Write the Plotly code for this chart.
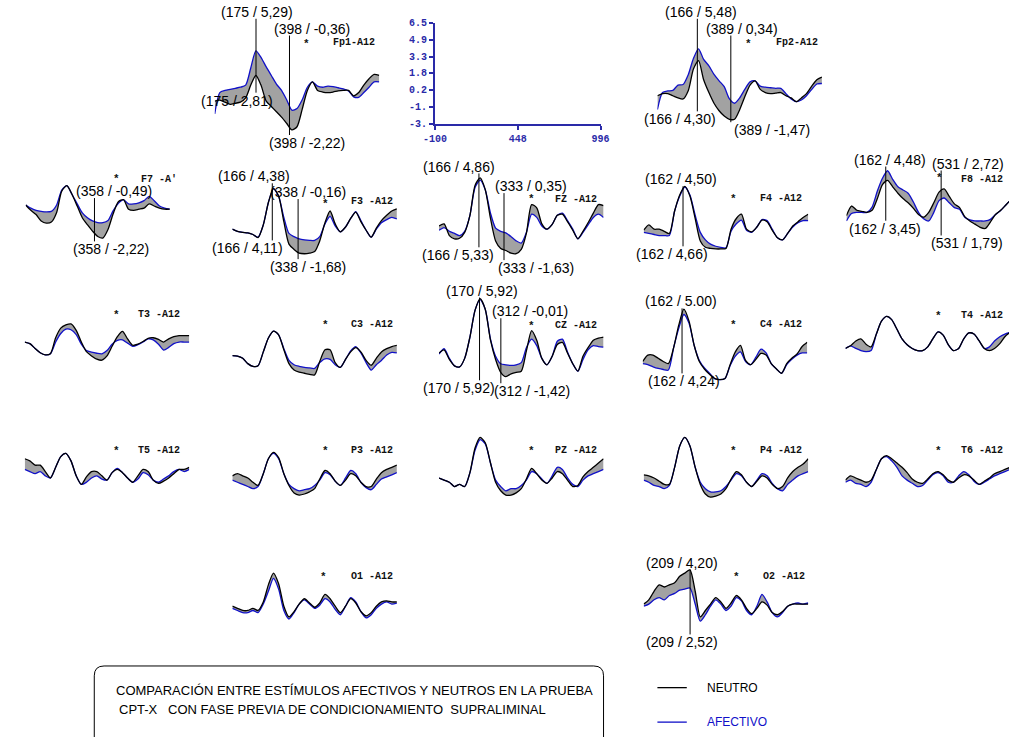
import plotly.graph_objects as go

W, H = 1018, 737

# ---------------- DATA ----------------
TIME_MS = [-100, -66, -31, 3, 37, 71, 106, 140, 174, 208, 243, 277, 311, 345, 380, 414,
           448, 482, 517, 551, 585, 619, 654, 688, 722, 756, 791, 825, 859, 893, 928, 962, 996]

FP1_NEU = [0.5,0.6,0.4,0.2,0.3,0.4,0.8,2.0,2.9,2.0,0.5,0.0,-0.5,-1.0,-1.6,-2.2,-1.9,-0.3,1.5,2.3,1.5,1.35,1.3,1.35,1.45,1.5,1.5,1.0,1.3,2.0,2.6,3.0,2.9]
FP1_AFE = [-0.7,1.3,1.5,1.6,1.7,1.8,2.0,3.6,5.2,4.6,3.7,2.9,2.1,1.5,0.6,-0.35,-0.2,0.6,1.8,2.3,1.9,1.8,1.9,1.85,1.75,1.65,1.45,0.9,0.85,1.3,1.8,2.3,2.3]
FP2_NEU = [1.0,1.2,1.2,1.0,0.8,0.7,1.5,3.5,4.3,2.5,1.3,0.3,-0.4,-0.9,-1.2,-1.2,-0.3,0.9,2.0,2.4,1.6,1.3,1.2,1.25,1.3,1.0,0.8,0.45,0.8,1.2,1.9,2.5,2.75]
FP2_AFE = [-0.3,1.3,1.45,1.5,2.0,2.05,3.0,4.5,5.4,4.4,3.8,3.0,2.4,1.85,0.7,0.3,0.8,1.6,2.3,2.4,1.9,1.8,1.75,1.7,1.7,1.2,0.7,0.45,0.6,1.0,1.6,2.1,2.15]
F7_NEU = [1.2,0.7,0.3,-0.3,-0.5,-0.4,0.5,2.5,3.0,2.2,1.1,0.0,-0.65,-1.25,-1.75,-1.9,-1.1,0.35,1.5,1.7,0.8,0.7,0.8,0.9,1.3,1.1,0.9,0.8,0.8,None,None,None,None]
F7_AFE = [1.2,0.9,0.7,0.6,0.55,0.6,1.2,2.6,3.0,2.2,1.3,0.45,0.0,-0.3,-0.45,-0.45,-0.25,0.65,1.35,1.7,1.3,1.3,1.4,1.6,2.0,1.6,1.1,0.9,0.8,None,None,None,None]
F3_NEU = [0.5,0.3,0.2,0.15,0.0,-0.3,0.9,3.0,4.3,3.6,1.2,-0.9,-1.4,-1.75,-1.8,-1.75,-1.6,-0.6,1.1,2.2,1.0,0.25,0.7,1.5,2.1,1.2,0.4,-0.25,0.6,1.3,1.8,2.2,2.4]
F3_AFE = [0.5,0.3,0.2,0.15,0.0,-0.25,0.9,3.0,4.3,3.6,1.6,0.1,-0.2,-0.4,-0.5,-0.55,-0.55,-0.2,1.0,1.7,0.8,0.25,0.7,1.5,2.15,1.3,0.4,-0.25,0.5,1.1,1.4,1.6,1.45]
FZ_NEU = [0.8,1.0,-0.1,-0.4,-0.35,0.2,1.8,4.6,5.3,4.2,1.5,-0.6,-1.3,-1.5,-1.75,-1.8,-1.4,0.1,2.8,2.5,1.0,0.5,0.95,1.8,1.9,1.2,0.4,-0.4,0.3,1.1,2.0,2.8,2.7]
FZ_AFE = [0.4,0.65,0.3,0.1,-0.1,0.3,1.8,4.4,5.1,4.2,2.0,0.6,0.3,0.15,-0.2,-0.6,-0.8,0.2,1.9,1.6,0.8,0.5,0.95,1.8,2.0,1.3,0.5,-0.4,0.2,0.9,1.6,1.9,1.6]
F4_NEU = [0.4,0.9,0.5,0.5,0.3,0.1,2.2,3.7,4.5,3.6,1.5,-0.6,-1.2,-1.3,-1.35,-1.35,-1.3,0.5,1.5,1.9,0.5,0.25,0.7,1.35,1.2,0.4,-0.3,-0.5,0.1,0.8,1.2,1.6,1.9]
F4_AFE = [0.2,0.1,0.0,-0.1,-0.1,-0.1,2.2,3.6,4.45,3.7,1.8,0.2,-0.5,-0.9,-1.1,-1.2,-1.25,0.3,1.0,1.35,0.4,0.2,0.7,1.4,1.3,0.5,-0.3,-0.5,0.1,0.7,1.1,1.3,1.3]
F8_NEU = [0.2,1.1,0.7,0.6,0.5,0.7,1.8,3.1,3.5,2.9,2.3,1.8,1.4,0.9,0.3,0.05,0.5,1.4,2.4,2.7,2.0,1.3,0.95,0.1,-0.3,-0.6,-0.9,-1.0,-0.4,0.3,0.7,1.2,1.7]
F8_AFE = [-0.3,0.4,0.5,0.5,0.5,1.0,2.5,3.7,4.4,3.6,2.9,2.6,2.3,1.5,0.5,-0.1,-0.3,0.5,1.6,1.85,1.4,0.95,0.8,0.05,-0.2,-0.3,-0.3,-0.3,-0.15,0.3,0.7,1.2,1.7]
T3_NEU = [1.0,0.85,0.4,0.0,-0.2,-0.1,1.4,2.3,2.6,2.7,2.1,1.0,0.1,-0.3,-0.6,-0.7,-0.3,0.6,1.5,2.0,1.3,0.7,0.8,1.05,1.35,1.4,1.25,1.0,1.3,1.5,1.6,1.6,1.6]
T3_AFE = [1.0,0.85,0.4,0.0,-0.2,-0.1,1.0,1.8,2.2,2.15,1.7,0.8,0.2,0.05,-0.05,-0.1,0.2,0.8,1.15,1.2,0.9,0.6,0.75,1.0,1.3,1.2,0.8,0.25,0.5,0.85,1.0,1.0,1.0]
C3_NEU = [0.65,0.6,0.4,-0.1,-0.35,-0.3,1.0,2.3,2.95,2.6,1.2,-0.1,-0.7,-0.9,-1.0,-1.1,-1.15,0.1,1.2,1.2,0.0,-0.45,0.3,1.0,1.4,1.0,0.2,-0.25,0.4,1.0,1.3,1.5,1.6]
C3_AFE = [0.65,0.6,0.4,-0.1,-0.35,-0.3,1.0,2.3,2.95,2.6,1.3,0.2,-0.2,-0.35,-0.45,-0.5,-0.55,0.0,0.35,0.3,-0.2,-0.45,0.3,1.1,1.5,0.9,0.0,-0.7,-0.2,0.2,0.7,0.95,0.9]
CZ_NEU = [0.8,1.1,0.2,-0.4,-0.5,0.3,2.3,4.8,5.9,4.9,2.0,0.2,-1.0,-1.4,-1.15,-1.0,-0.9,1.0,2.9,2.0,0.3,-0.3,0.5,1.6,1.8,0.8,-0.2,-0.9,0.5,1.3,2.0,2.2,2.3]
CZ_AFE = [0.7,1.2,0.3,-0.4,-0.5,0.3,2.3,4.8,5.8,4.9,2.1,0.5,-0.2,-0.3,-0.35,-0.3,-0.1,1.3,2.1,1.5,0.3,-0.3,0.5,1.9,2.1,0.9,-0.2,-0.9,0.2,1.1,1.5,1.4,1.35]
C4_NEU = [0.1,0.7,0.7,0.4,0.1,-0.1,1.4,3.5,5.0,3.9,1.6,0.1,-0.6,-1.1,-1.5,-1.6,-1.5,-0.2,1.0,1.6,0.2,-0.2,0.3,0.85,0.7,-0.1,-0.6,-1.0,-0.1,0.4,0.8,1.5,1.9]
C4_AFE = [-0.1,-0.2,-0.4,-0.55,-0.65,-0.7,1.4,3.2,4.5,3.7,1.6,0.2,-0.5,-1.0,-1.5,-1.6,-1.5,-0.3,0.6,1.0,0.1,-0.2,0.5,1.25,0.9,-0.1,-0.6,-1.0,-0.2,0.3,0.7,0.9,0.9]
T4_NEU = [0.4,0.65,1.1,1.3,0.8,0.55,1.75,2.95,3.4,3.1,2.2,1.3,0.75,0.4,0.2,0.2,0.55,1.3,1.95,1.65,0.75,0.2,0.4,1.3,1.85,1.75,1.1,0.4,0.2,0.4,0.85,1.5,1.9]
T4_AFE = [0.4,0.65,0.4,0.2,0.1,0.2,1.75,2.95,3.4,3.1,2.2,1.3,0.75,0.4,0.2,0.2,0.55,1.3,1.95,1.65,0.75,0.2,0.4,1.3,1.85,1.75,1.1,0.4,0.55,1.1,1.5,1.75,1.9]
T5_NEU = [2.8,2.6,2.2,2.2,1.6,1.0,2.0,3.0,3.3,2.6,1.2,0.4,1.1,1.6,1.6,1.2,0.8,1.5,1.8,1.5,1.0,0.6,1.2,1.8,1.6,0.8,0.5,0.7,1.0,1.4,1.8,1.8,2.0]
T5_AFE = [1.8,1.6,1.4,1.6,1.2,1.0,2.0,3.0,3.3,2.6,1.2,0.4,0.6,1.0,1.2,0.9,0.8,1.5,1.9,1.5,1.0,0.6,0.9,1.5,1.3,0.8,0.6,0.9,1.2,1.6,1.8,1.6,1.8]
P3_NEU = [1.2,1.4,1.2,1.0,0.6,0.3,1.4,2.8,3.4,2.9,1.4,0.3,-0.4,-0.6,-0.5,-0.3,0.0,0.9,1.7,1.4,0.7,0.3,0.8,1.4,1.2,0.6,0.2,0.2,0.9,1.5,1.8,2.0,2.2]
P3_AFE = [0.8,0.6,0.4,0.2,0.0,0.2,1.4,2.8,3.3,2.8,1.4,0.4,0.0,-0.2,-0.1,0.0,0.3,0.8,1.5,1.3,0.7,0.3,1.0,1.7,1.4,0.6,0.1,-0.1,0.4,0.9,1.1,1.3,1.5]
PZ_NEU = [1.0,0.8,0.6,0.2,0.4,0.2,1.5,3.8,4.8,4.3,2.4,0.6,-0.2,-0.6,-0.6,-0.4,0.0,0.9,1.9,1.4,0.8,0.5,1.0,1.6,1.4,0.8,0.2,0.3,1.1,1.6,2.0,2.4,2.8]
PZ_AFE = [1.0,0.8,0.6,0.2,0.4,0.2,1.5,3.6,4.6,4.2,2.4,0.8,0.2,-0.2,0.0,0.0,0.3,0.8,1.6,1.4,0.9,0.5,1.2,2.0,1.8,1.0,0.4,0.2,0.8,1.2,1.4,1.6,1.8]
P4_NEU = [1.3,1.2,1.0,0.7,0.4,0.4,2.0,4.0,4.8,4.0,2.0,0.4,-0.5,-0.8,-0.7,-0.5,0.0,0.9,1.6,1.3,0.6,0.2,0.7,1.2,1.0,0.4,0.0,0.2,1.0,1.6,2.0,2.3,2.8]
P4_AFE = [0.8,0.6,0.3,0.2,0.0,0.3,2.0,4.0,4.8,4.0,2.0,0.6,0.0,-0.3,-0.3,-0.2,0.2,0.8,1.4,1.2,0.6,0.2,0.8,1.4,1.2,0.5,0.0,-0.2,0.4,0.8,1.2,1.4,1.6]
T6_NEU = [0.8,1.2,1.0,0.8,0.6,0.8,1.8,2.8,3.1,2.8,2.4,2.0,1.5,0.9,0.6,0.5,0.9,1.4,1.6,1.3,0.8,0.6,1.0,1.3,1.2,0.8,0.4,0.7,1.0,1.4,1.6,1.8,2.0]
T6_AFE = [0.6,0.8,0.5,0.4,0.2,0.6,1.8,2.8,3.0,2.6,2.0,1.2,0.8,0.5,0.2,0.3,0.8,1.3,1.5,1.2,0.6,0.6,1.2,1.6,1.3,0.7,0.4,0.6,0.9,1.2,1.4,1.6,1.8]
O1_NEU = [0.8,0.6,0.4,0.4,0.6,0.4,1.2,2.8,3.9,2.9,0.8,-0.2,0.3,1.0,1.5,1.1,0.7,1.1,1.9,1.5,0.8,0.2,0.8,1.5,1.1,0.3,-0.1,0.2,0.8,1.2,1.3,1.2,1.2]
O1_AFE = [0.6,0.4,0.2,0.2,0.4,0.2,1.0,2.2,3.4,2.4,0.4,-0.4,0.2,1.0,1.4,1.0,0.6,0.9,1.5,1.2,0.5,0.0,0.8,1.6,1.2,0.3,-0.3,0.0,0.6,1.0,1.2,1.0,1.1]
O2_NEU = [1.0,1.4,2.2,2.8,2.6,2.8,3.0,3.6,3.9,4.2,2.2,-0.2,0.4,1.0,1.6,1.2,0.6,1.1,1.8,1.4,0.6,0.1,0.6,1.2,0.9,0.2,0.0,0.3,0.8,1.0,1.0,1.0,1.0]
O2_AFE = [0.8,1.0,1.4,1.6,1.4,1.8,2.0,2.3,2.4,2.5,1.0,-0.6,0.0,0.8,1.4,1.0,0.4,0.8,1.6,1.3,0.4,0.0,0.8,1.9,1.2,0.2,-0.2,0.2,0.8,1.0,1.1,1.0,1.1]

ELECTRODES = ["Fp1", "Fp2", "F7", "F3", "Fz", "F4", "F8", "T3", "C3", "Cz", "C4", "T4",
              "T5", "P3", "Pz", "P4", "T6", "O1", "O2"]
NEUTRO = {"Fp1": FP1_NEU, "Fp2": FP2_NEU, "F7": F7_NEU, "F3": F3_NEU, "Fz": FZ_NEU,
          "F4": F4_NEU, "F8": F8_NEU, "T3": T3_NEU, "C3": C3_NEU, "Cz": CZ_NEU,
          "C4": C4_NEU, "T4": T4_NEU, "T5": T5_NEU, "P3": P3_NEU, "Pz": PZ_NEU,
          "P4": P4_NEU, "T6": T6_NEU, "O1": O1_NEU, "O2": O2_NEU}
AFECTIVO = {"Fp1": FP1_AFE, "Fp2": FP2_AFE, "F7": F7_AFE, "F3": F3_AFE, "Fz": FZ_AFE,
            "F4": F4_AFE, "F8": F8_AFE, "T3": T3_AFE, "C3": C3_AFE, "Cz": CZ_AFE,
            "C4": C4_AFE, "T4": T4_AFE, "T5": T5_AFE, "P3": P3_AFE, "Pz": PZ_AFE,
            "P4": P4_AFE, "T6": T6_AFE, "O1": O1_AFE, "O2": O2_AFE}
CHANNEL_LABELS = {"Fp1": "Fp1-A12", "Fp2": "Fp2-A12", "F7": "F7 -A'", "F3": "F3 -A12",
                  "Fz": "FZ -A12", "F4": "F4 -A12", "F8": "F8 -A12", "T3": "T3 -A12",
                  "C3": "C3 -A12", "Cz": "CZ -A12", "C4": "C4 -A12", "T4": "T4 -A12",
                  "T5": "T5 -A12", "P3": "P3 -A12", "Pz": "PZ -A12", "P4": "P4 -A12",
                  "T6": "T6 -A12", "O1": "O1 -A12", "O2": "O2 -A12"}
# (electrode, latency ms, upper label, lower label)
PEAK_MARKS = [
    ("Fp1", 175, "(175 / 5,29)", "(175 / 2,81)"),
    ("Fp1", 398, "(398 / -0,36)", "(398 / -2,22)"),
    ("Fp2", 166, "(166 / 5,48)", "(166 / 4,30)"),
    ("Fp2", 389, "(389 / 0,34)", "(389 / -1,47)"),
    ("F7", 358, "(358 / -0,49)", "(358 / -2,22)"),
    ("F3", 166, "(166 / 4,38)", "(166 / 4,11)"),
    ("F3", 338, "(338 / -0,16)", "(338 / -1,68)"),
    ("Fz", 166, "(166 / 4,86)", "(166 / 5,33)"),
    ("Fz", 333, "(333 / 0,35)", "(333 / -1,63)"),
    ("F4", 162, "(162 / 4,50)", "(162 / 4,66)"),
    ("F8", 162, "(162 / 4,48)", "(162 / 3,45)"),
    ("F8", 531, "(531 / 2,72)", "(531 / 1,79)"),
    ("Cz", 170, "(170 / 5,92)", "(170 / 5,92)"),
    ("Cz", 312, "(312 / -0,01)", "(312 / -1,42)"),
    ("C4", 162, "(162 / 5.00)", "(162 / 4,24)"),
    ("O2", 209, "(209 / 4,20)", "(209 / 2,52)"),
]
SCALE_X_TICKS = [-100, 448, 996]
SCALE_Y_TICKS = [6.5, 4.9, 3.3, 1.8, 0.2, -1.4, -3.0]
SCALE_Y_TEXT = ["6.5", "4.9", "3.3", "1.8", "0.2", "-1.", "-3."]
TITLE_LINES = ["COMPARACIÓN ENTRE ESTÍMULOS AFECTIVOS Y NEUTROS EN LA PRUEBA",
               "CPT-X   CON FASE PREVIA DE CONDICIONAMIENTO  SUPRALIMINAL"]
SERIES_NAMES = ["NEUTRO", "AFECTIVO"]

# ---------------- LAYOUT / POSITIONS (pixels) ----------------
PX_PER_UV = 10.84
PANEL_W = 168
T_START, T_END = -100, 996
Y_LO, Y_HI = -4.0, 7.0
PANEL_POS = {"Fp1": (207, 104), "Fp2": (659, 104),
             "F7": (14, 217), "F3": (225, 234), "Fz": (436, 234), "F4": (645, 234), "F8": (852, 217),
             "T3": (13, 354), "C3": (225, 364), "Cz": (436, 363), "C4": (644, 364), "T4": (851, 354),
             "T5": (13, 492), "P3": (225, 492), "Pz": (436, 492), "P4": (645, 492), "T6": (851, 492),
             "O1": (225, 620), "O2": (645, 620)}
MARK_POS = {("Fp1", 175): (250, 8, 230, 98), ("Fp1", 398): (306, 25, 301, 141),
            ("Fp2", 166): (704, 8, 682, 117), ("Fp2", 389): (745, 25, 776, 128),
            ("F7", 358): (104, 190, 101, 249),
            ("F3", 166): (247, 175, 240, 248), ("F3", 338): (302, 191, 302, 267),
            ("Fz", 166): (456, 165, 455, 255), ("Fz", 333): (530, 185, 535, 268),
            ("F4", 162): (683, 178, 674, 254),
            ("F8", 162): (897, 158, 891, 228), ("F8", 531): (976, 162, 975, 243),
            ("Cz", 170): (480, 291, 456, 390), ("Cz", 312): (529, 312, 531, 393),
            ("C4", 162): (683, 302, 686, 383),
            ("O2", 209): (684, 567, 684, 648)}
CH_LABEL_POS = {"Fp1": (349, 39), "Fp2": (802, 39), "F7": (150, 178), "F3": (368, 201),
                "Fz": (576, 198), "F4": (785, 197), "F8": (990, 178), "T3": (150, 315),
                "C3": (368, 325), "Cz": (576, 326), "C4": (785, 325), "T4": (990, 316),
                "T5": (150, 453), "P3": (368, 453), "Pz": (576, 453), "P4": (785, 453),
                "T6": (990, 453), "O1": (368, 581), "O2": (788, 581)}
STAR_POS = {"Fp1": (301, 41), "Fp2": (752, 41), "F7": (107, 178), "F3": (320, 203),
            "Fz": (530, 198), "F4": (737, 198), "F8": (947, 177), "T3": (107, 316),
            "C3": (320, 326), "Cz": (530, 327), "C4": (737, 326), "T4": (946, 317),
            "T5": (107, 454), "P3": (320, 454), "Pz": (530, 454), "P4": (737, 454),
            "T6": (946, 454), "O1": (318, 582), "O2": (740, 582)}

BLACK = "#000000"
BLUE = "#1010c8"
FILL = "#a2a2a2"
AXBLUE = "#2a2aa8"


def px(x):
    return x / W


def py(y):
    return 1 - y / H


fig = go.Figure()
layout_axes = {}
shapes = []
annotations = []
TXT = dict(family="Liberation Sans, Arial, sans-serif", size=14, color="black")
MONO = dict(family="Liberation Mono, Courier New, monospace", size=10, color="#111111")
SPL = dict(shape="spline", smoothing=0.7)

for i, el in enumerate(ELECTRODES, start=1):
    left, zero = PANEL_POS[el]
    right = min(left + PANEL_W, W)
    xmax = T_START + (right - left) / PANEL_W * (T_END - T_START)
    top_px = zero - Y_HI * PX_PER_UV
    bot_px = zero - Y_LO * PX_PER_UV
    layout_axes[f"xaxis{i}"] = dict(domain=[px(left), px(right)], range=[T_START, xmax],
                                    visible=False, anchor=f"y{i}", fixedrange=True)
    layout_axes[f"yaxis{i}"] = dict(domain=[py(bot_px), py(top_px)], range=[Y_LO, Y_HI],
                                    visible=False, anchor=f"x{i}", fixedrange=True)
    ax = dict(xaxis=f"x{i}", yaxis=f"y{i}", hoverinfo="skip", showlegend=False)
    fig.add_trace(go.Scatter(x=TIME_MS, y=AFECTIVO[el], mode="lines",
                             line=dict(color="rgba(0,0,0,0)", width=0, **SPL), **ax))
    fig.add_trace(go.Scatter(x=TIME_MS, y=NEUTRO[el], mode="lines", fill="tonexty",
                             fillcolor=FILL, line=dict(color="rgba(0,0,0,0)", width=0, **SPL), **ax))
    fig.add_trace(go.Scatter(x=TIME_MS, y=AFECTIVO[el], mode="lines", name=SERIES_NAMES[1],
                             line=dict(color=BLUE, width=1.3, **SPL), **ax))
    fig.add_trace(go.Scatter(x=TIME_MS, y=NEUTRO[el], mode="lines", name=SERIES_NAMES[0],
                             line=dict(color=BLACK, width=1.3, **SPL), **ax))
    cx, cy = CH_LABEL_POS[el]
    annotations.append(dict(x=px(cx), y=py(cy), xref="paper", yref="paper", showarrow=False,
                            text=f"<b>{CHANNEL_LABELS[el]}</b>", font=MONO,
                            xanchor="center", yanchor="middle"))
    if el in STAR_POS:
        sx, sy = STAR_POS[el]
        annotations.append(dict(x=px(sx), y=py(sy), xref="paper", yref="paper", showarrow=False,
                                text="<b>*</b>", font=dict(MONO, size=11),
                                xanchor="center", yanchor="middle"))

axis_index = {el: i for i, el in enumerate(ELECTRODES, start=1)}
for el, lat, top_txt, bot_txt in PEAK_MARKS:
    tx, ty, bx, by = MARK_POS[(el, lat)]
    i = axis_index[el]
    shapes.append(dict(type="line", xref=f"x{i}", yref="paper", x0=lat, x1=lat,
                       y0=py(ty + 7), y1=py(by - 8), line=dict(color="black", width=1)))
    annotations.append(dict(x=px(tx), y=py(ty), xref="paper", yref="paper", showarrow=False,
                            text=top_txt, font=TXT, xanchor="center", yanchor="middle"))
    annotations.append(dict(x=px(bx), y=py(by), xref="paper", yref="paper", showarrow=False,
                            text=bot_txt, font=TXT, xanchor="center", yanchor="middle"))

# scale panel
k = len(ELECTRODES) + 1
tick_font = dict(family="Liberation Mono, monospace", size=10, color=AXBLUE)
layout_axes[f"xaxis{k}"] = dict(domain=[px(432), px(601)], range=[T_START, T_END], anchor=f"y{k}",
                                showline=True, linecolor=AXBLUE, linewidth=2, ticks="outside",
                                ticklen=4, tickcolor=AXBLUE, tickwidth=2, showgrid=False,
                                zeroline=False, tickvals=SCALE_X_TICKS,
                                ticktext=[f"<b>{v}</b>" for v in SCALE_X_TICKS],
                                tickfont=tick_font, fixedrange=True)
layout_axes[f"yaxis{k}"] = dict(domain=[py(121.5), py(19)], range=[-3.0, 6.5], anchor=f"x{k}",
                                showline=True, linecolor=AXBLUE, linewidth=2, ticks="outside",
                                ticklen=4, tickcolor=AXBLUE, tickwidth=2, showgrid=False,
                                zeroline=False, tickvals=SCALE_Y_TICKS,
                                ticktext=[f"<b>{t}</b>" for t in SCALE_Y_TEXT],
                                tickfont=tick_font, fixedrange=True)
fig.add_trace(go.Scatter(x=[None], y=[None], xaxis=f"x{k}", yaxis=f"y{k}", mode="lines",
                         showlegend=False, hoverinfo="skip"))

# caption box (rounded top corners, runs off the bottom)
bx0, bx1, by0, by1, r = 84, 604, 672, 760, 10
path = (f"M {px(bx0)},{py(by1)} L {px(bx0)},{py(by0 + r)} Q {px(bx0)},{py(by0)} {px(bx0 + r)},{py(by0)} "
        f"L {px(bx1 - r)},{py(by0)} Q {px(bx1)},{py(by0)} {px(bx1)},{py(by0 + r)} L {px(bx1)},{py(by1)}")
shapes.append(dict(type="path", xref="paper", yref="paper", path=path,
                   line=dict(color="black", width=1)))
NARROW = dict(family="Liberation Sans Narrow, Arial Narrow, Liberation Sans, Arial", size=13,
              color="black")
annotations.append(dict(x=px(104), y=py(697), xref="paper", yref="paper", showarrow=False,
                        text=TITLE_LINES[0], font=NARROW, xanchor="left", yanchor="middle"))
annotations.append(dict(x=px(107), y=py(716), xref="paper", yref="paper", showarrow=False,
                        text=TITLE_LINES[1], font=NARROW, xanchor="left", yanchor="middle"))

# legend
for name, color, ly in [(SERIES_NAMES[0], BLACK, 694), (SERIES_NAMES[1], BLUE, 729)]:
    shapes.append(dict(type="line", xref="paper", yref="paper", x0=px(659), x1=px(689),
                       y0=py(ly), y1=py(ly), line=dict(color=color, width=1.3)))
    annotations.append(dict(x=px(708), y=py(ly), xref="paper", yref="paper", showarrow=False,
                            text=name, font=dict(NARROW, size=12, color=color),
                            xanchor="left", yanchor="middle"))

fig.update_layout(width=W, height=H, margin=dict(l=0, r=0, t=0, b=0),
                  paper_bgcolor="white", plot_bgcolor="rgba(0,0,0,0)",
                  showlegend=False, shapes=shapes, annotations=annotations, **layout_axes)

fig.write_html("out.html", config={"displayModeBar": False},
               post_script="document.body.style.margin='0';document.body.style.overflow='hidden';")
